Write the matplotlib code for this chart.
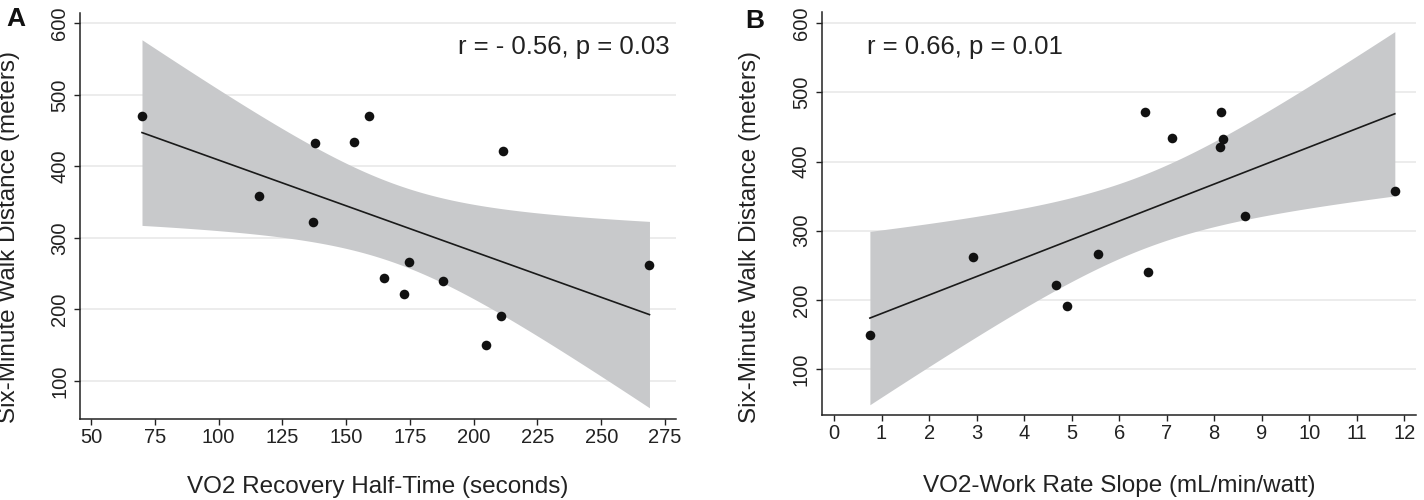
import numpy as np
import matplotlib
matplotlib.use("Agg")
import matplotlib.pyplot as plt

plt.rcParams['font.family'] = ['Liberation Sans', 'DejaVu Sans']

# Panel A: VO2 recovery half-time vs 6MWD
half_time = [70, 138, 153, 159, 211.5, 115.7, 137, 174.8, 164.7, 172.7, 187.8, 210.7, 205, 268.9]
walk_a = [471, 432, 434, 471, 422, 358, 322, 266, 244, 222, 240, 191, 150, 262]

# Panel B: VO2-work rate slope vs 6MWD
wr_slope = [6.55, 8.15, 7.12, 8.19, 8.12, 8.64, 11.8, 2.92, 5.55, 4.68, 4.91, 6.6, 0.755]
walk_b = [472, 472, 434, 433, 421, 322, 358, 262, 266, 222, 191, 240, 149]

yticks = [100, 200, 300, 400, 500, 600]
xticks_a = [50, 75, 100, 125, 150, 175, 200, 225, 250, 275]
xticks_b = list(range(0, 13))

# t quantiles (0.975) for n-2 degrees of freedom
t975 = {11: 2.201, 12: 2.179}


def fit_band(x, y):
    x = np.asarray(x, float)
    y = np.asarray(y, float)
    n = len(x)
    b, a = np.polyfit(x, y, 1)
    resid = y - (a + b * x)
    s = np.sqrt(np.sum(resid ** 2) / (n - 2))
    xs = np.linspace(x.min(), x.max(), 200)
    fit = a + b * xs
    se = s * np.sqrt(1 / n + (xs - x.mean()) ** 2 / np.sum((x - x.mean()) ** 2))
    t = t975[n - 2]
    return xs, fit, fit - t * se, fit + t * se


def draw_panel(ax, x, y, xticks, xlim, ylim, xlabel):
    xs, fit, lo, hi = fit_band(x, y)
    ax.fill_between(xs, lo, hi, color='#c8c9cb', lw=0, zorder=1)
    ax.plot(xs, fit, color='#1a1a1a', lw=1.2, zorder=2)
    ax.scatter(x, y, s=48, color='#111111', zorder=3, linewidths=0)
    ax.set_xlim(*xlim)
    ax.set_ylim(*ylim)
    ax.set_xticks(xticks)
    ax.set_yticks(yticks)
    ax.yaxis.grid(True, color='#ebebeb', lw=1.3)
    ax.set_axisbelow(True)
    for side in ['top', 'right']:
        ax.spines[side].set_visible(False)
    for side in ['left', 'bottom']:
        ax.spines[side].set_linewidth(1.1)
        ax.spines[side].set_color('#222222')
    ax.tick_params(axis='both', direction='out', length=4.3, width=1.0,
                   color='#222222', labelsize=14.5, labelcolor='#222222')
    ax.tick_params(axis='x', pad=2.2)
    ax.tick_params(axis='y', pad=3.5)
    for lbl in ax.get_yticklabels():
        lbl.set_rotation(90)
        lbl.set_va('center')
        lbl.set_ha('right')
    ax.set_xlabel(xlabel, fontsize=17.5, color='#222222', va='center')
    ax.set_ylabel('Six-Minute Walk Distance (meters)', fontsize=17.5,
                  color='#222222', va='center', ha='center')


fig = plt.figure(figsize=(14.24, 5), dpi=100)

ax_a = fig.add_axes([0.05618, 0.1614, 0.41854, 0.8132])
draw_panel(ax_a, half_time, walk_a, xticks_a, (45.7, 279.3), (46.5, 614.8),
           'VO2 Recovery Half-Time (seconds)')
ax_a.xaxis.set_label_coords(0.5, -0.1658)
ax_a.yaxis.set_label_coords(-0.1183, 0.4483)
ax_a.text(0.989, 0.9156, 'r = - 0.56, p = 0.03', transform=ax_a.transAxes,
          ha='right', va='center', fontsize=18.5, color='#222222')

ax_b = fig.add_axes([0.57704, 0.17, 0.41735, 0.805])
draw_panel(ax_b, wr_slope, walk_b, xticks_b, (-0.259, 12.246), (33.5, 615.6),
           'VO2-Work Rate Slope (mL/min/watt)')
ax_b.xaxis.set_label_coords(0.5, -0.1764)
ax_b.yaxis.set_label_coords(-0.1206, 0.4422)
ax_b.text(0.0757, 0.9143, 'r = 0.66, p = 0.01', transform=ax_b.transAxes,
          ha='left', va='center', fontsize=18.5, color='#222222')

fig.text(16 / 1424, 1 - 19 / 500, 'A', ha='center', va='center',
         fontsize=19, fontweight='bold', color='#111111')
fig.text(755 / 1424, 1 - 20.5 / 500, 'B', ha='center', va='center',
         fontsize=19, fontweight='bold', color='#111111')

fig.savefig('out.png', dpi=100)
